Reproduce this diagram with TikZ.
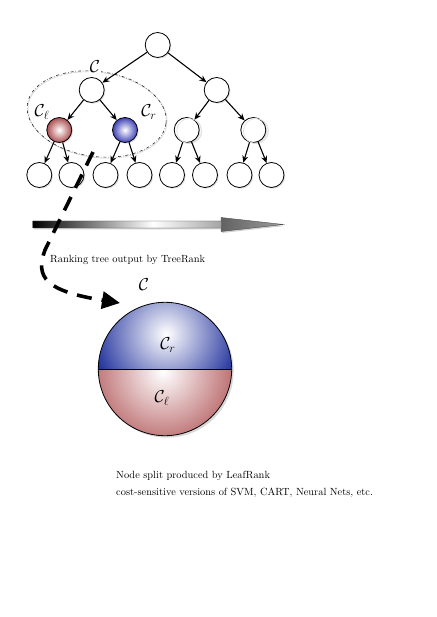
\documentclass[tikz,border=0pt]{standalone}
\usetikzlibrary{arrows.meta,shadows}
\definecolor{ballred}{RGB}{172,78,80}
\definecolor{ballblue}{RGB}{62,66,182}
\definecolor{sphblue}{RGB}{18,36,150}
\definecolor{sphred}{RGB}{176,84,86}
\pgfdeclarehorizontalshading{arrowshade}{100bp}{color(0bp)=(black); color(25bp)=(black); color(49bp)=(white); color(62.4bp)=(black!35); color(62.6bp)=(black!62); color(75bp)=(black!38); color(100bp)=(black!38)}
\begin{document}
\begin{tikzpicture}[x=1pt,y=-1pt,
  tnode/.style={circle,draw,fill=white,line width=0.8pt,minimum size=25pt,inner sep=0pt,
    drop shadow={opacity=0.25,shadow xshift=1.2pt,shadow yshift=-1.2pt}},
  redball/.style={inner color=white,outer color=ballred},
  blueball/.style={inner color=white,outer color=ballblue},
  ghost/.style={circle,draw=gray!30,line width=0.8pt,minimum size=25pt,inner sep=0pt},
  tedge/.style={-{Stealth[length=7pt,width=6pt]},line width=1.1pt},
  lbl/.style={font=\LARGE},
  caption/.style={font=\fontsize{10.4}{12}\selectfont,anchor=base west,inner sep=0pt}]
\useasboundingbox (0,0) rectangle (436,617);

% ellipse around subtree
\draw[gray!35,line width=0.6pt,rotate around={-8:(97.5,115)}] (97.5,115) ellipse [x radius=70, y radius=42.5];
\draw[dash dot,gray!30!black,line width=0.6pt,rotate around={-8:(96.7,114)}] (96.7,114) ellipse [x radius=70, y radius=42.5];

% ghost rings
\node[ghost] (gd) at (189.2,131) {};
\node[ghost] (ge) at (255.8,131) {};

% tree nodes
\node[tnode] (r) at (157.7,45) {};
\node[tnode] (a) at (91.7,90) {};
\node[tnode] (b) at (216.7,90) {};
\node[tnode,redball] (cl) at (59.3,130) {};
\node[tnode,blueball] (cr) at (125,130) {};
\node[tnode] (d) at (186.7,130) {};
\node[tnode] (e) at (253.3,130) {};
\foreach \i/\x in {1/39.3,2/71.5,3/105.5,4/139.5,5/172,6/205,7/239.5,8/271.5}
  \node[tnode] (l\i) at (\x,175) {};
\node[ghost,draw=gray!20,fill=none] (gd2) at (189.2,131) {};
\node[ghost,draw=gray!20,fill=none] (ge2) at (255.8,131) {};

\draw[tedge] (r) -- (a);
\draw[tedge] (r) -- (b);
\draw[tedge] (a) -- (cl);
\draw[tedge] (a) -- (cr);
\draw[tedge] (b) -- (d);
\draw[tedge] (b) -- (e);
\draw[tedge] (cl) -- (l1);
\draw[tedge] (cl) -- (l2);
\draw[tedge] (cr) -- (l3);
\draw[tedge] (cr) -- (l4);
\draw[tedge] (d) -- (l5);
\draw[tedge] (d) -- (l6);
\draw[tedge] (e) -- (l7);
\draw[tedge] (e) -- (l8);

% labels in tree
\node[lbl,fill=white,inner sep=0.5pt] (lc) at (95,67) {$\mathcal{C}$};
\node[lbl] (lcl) at (42,112) {$\mathcal{C}_\ell$};
\node[lbl] (lcr) at (149,112) {$\mathcal{C}_r$};

% gradient arrow
\fill[black!35,opacity=0.5] (34,222.5) -- (222,222.5) -- (222,219) -- (284.5,226) -- (222,233) -- (222,229.5) -- (34,229.5) -- cycle;
\shade[shading=arrowshade,draw=black!70,line width=0.4pt] (32.7,221) -- (221,221) -- (221,217.5) -- (283.3,224.5) -- (221,231.5) -- (221,228) -- (32.7,228) -- cycle;

\node[caption] (cap1) at (50,262) {Ranking tree output by TreeRank};

% sphere
\coordinate (S) at (165,369);
\fill[black!30,opacity=0.5] (167,371) circle (66.7);
\begin{scope}
  \clip (S) circle (66.7);
  \clip (90,290) rectangle (240,369.3);
  \shade[inner color=white,outer color=sphblue] (166,334) circle (80);
\end{scope}
\begin{scope}
  \clip (S) circle (66.7);
  \clip (90,369.3) rectangle (240,445);
  \shade[inner color=white,outer color=sphred] (163,372) circle (84);
\end{scope}
\node[circle,draw,line width=0.8pt,minimum size=133.4pt,inner sep=0pt] (sph) at (S) {};
\draw[line width=0.8pt] (sph.west) -- (sph.east);
\node[lbl] (sc) at (144,285) {$\mathcal{C}$};
\node[lbl] (scr) at (168,345) {$\mathcal{C}_r$};
\node[lbl] (scl) at (162,398) {$\mathcal{C}_\ell$};

\node[caption] (cap2) at (116,478) {Node split produced by LeafRank};
\node[caption] (cap3) at (116,495) {cost-sensitive versions of SVM, CART, Neural Nets, etc.};

% dashed connector
\coordinate (ds) at (93,152);
\coordinate (dm) at (45,250);
\coordinate (de) at (120,303);
\draw[line width=3.6pt,dash pattern=on 15pt off 10pt,-{Triangle[length=18pt,width=17pt]}]
  (ds) -- (dm) .. controls (35,277) and (45,291) .. (de);
\end{tikzpicture}
\end{document}
